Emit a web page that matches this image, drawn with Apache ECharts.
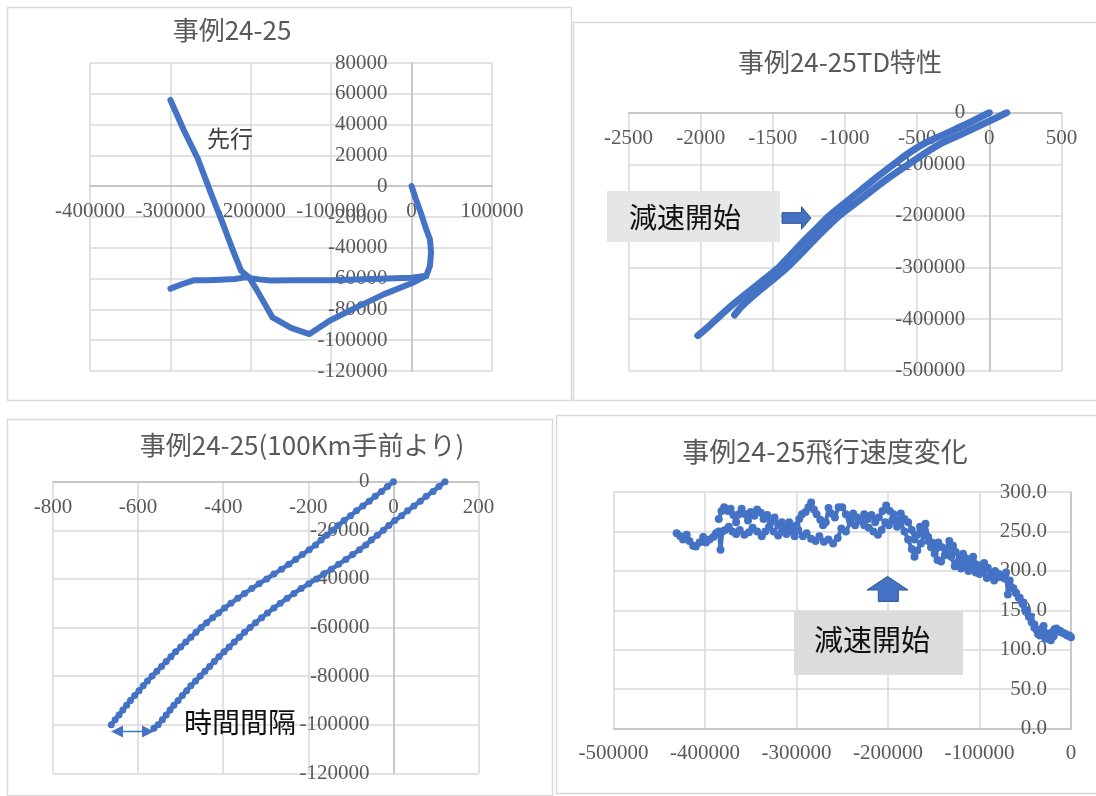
<!DOCTYPE html>
<html><head><meta charset="utf-8">
<script src="https://cdn.jsdelivr.net/npm/echarts@6/dist/echarts.min.js"></script>
<style>html,body{margin:0;padding:0;background:#fff}#c{width:1096px;height:796px}</style>
</head><body><div id="c"></div>
<script>
// ---------- Panel 1: 事例24-25 (track, m) ----------
const p1Lead = [[-300000,56000],[-283000,36000],[-266000,18000],[-250000,-4000],[-235000,-24000],[-222000,-42000],[-212000,-55000],[-202000,-59300],[-193000,-67000],[-173000,-85200],[-150000,-92000],[-127000,-96000],[-102000,-87400],[-70000,-79000],[-34000,-70100],[0,-63000],[18200,-58200],[22800,-51800],[24200,-43100],[22800,-34500],[18200,-28000],[11400,-17200],[5000,-8000],[0,0]];
const p1Follow = [[-300000,-66500],[-285000,-63500],[-270000,-61000],[-255000,-61000],[-238000,-60700],[-220000,-60300],[-207000,-59200],[-190000,-60500],[-175000,-61200],[-150000,-61000],[-120000,-61000],[-100000,-61000],[-60000,-60500],[-30000,-60000],[0,-59500],[18200,-58200]];
// ---------- Panel 2: TD特性 ----------
const p2Lead = [[0,0],[-143,-20000],[-298,-40000],[-452,-60000],[-567,-80000],[-663,-100000],[-780,-125000],[-890,-150000],[-1000,-175000],[-1110,-200000],[-1200,-225000],[-1290,-250000],[-1375,-275000],[-1460,-300000],[-1570,-325000],[-1680,-350000],[-1790,-375000],[-1890,-400000],[-1960,-418000],[-2020,-432000]];
const p2Follow = [[121,0],[3,-16000],[-181,-40000],[-337,-60000],[-454,-80000],[-560,-100000],[-690,-125000],[-810,-150000],[-925,-175000],[-1040,-200000],[-1135,-225000],[-1225,-250000],[-1310,-275000],[-1400,-300000],[-1505,-325000],[-1615,-350000],[-1715,-375000],[-1765,-392000]];
// ---------- Panel 3: 100Km手前より ----------
const p3Lead = [[0,0],[-14,-2000],[-28,-4000],[-43,-6000],[-57,-8000],[-72,-10000],[-87,-12000],[-101,-14000],[-116,-16000],[-130,-18000],[-143,-20000],[-157,-22000],[-170,-24000],[-183,-26000],[-198,-28000],[-214,-30000],[-230,-32000],[-246,-34000],[-263,-36000],[-281,-38000],[-298,-40000],[-316,-42000],[-333,-44000],[-350,-46000],[-366,-48000],[-382,-50000],[-397,-52000],[-411,-54000],[-425,-56000],[-439,-58000],[-452,-60000],[-464,-62000],[-476,-64000],[-488,-66000],[-500,-68000],[-512,-70000],[-523,-72000],[-534,-74000],[-545,-76000],[-556,-78000],[-567,-80000],[-578,-82000],[-588,-84000],[-598,-86000],[-608,-88000],[-618,-90000],[-627,-92000],[-636,-94000],[-645,-96000],[-654,-98000],[-663,-100000]];
const p3Follow = [[121,0],[107,-2000],[93,-4000],[77,-6000],[63,-8000],[48,-10000],[33,-12000],[19,-14000],[3,-16000],[-11,-18000],[-24,-20000],[-38,-22000],[-52,-24000],[-65,-26000],[-80,-28000],[-96,-30000],[-112,-32000],[-129,-34000],[-146,-36000],[-164,-38000],[-181,-40000],[-199,-42000],[-217,-44000],[-234,-46000],[-250,-48000],[-266,-50000],[-281,-52000],[-296,-54000],[-310,-56000],[-324,-58000],[-337,-60000],[-350,-62000],[-362,-64000],[-374,-66000],[-386,-68000],[-398,-70000],[-410,-72000],[-421,-74000],[-432,-76000],[-443,-78000],[-454,-80000],[-465,-82000],[-476,-84000],[-486,-86000],[-496,-88000],[-506,-90000],[-516,-92000],[-525,-94000],[-534,-96000],[-543,-98000],[-553,-100000],[-563,-101500]];
// ---------- Panel 4: 飛行速度変化 ----------
const p4Lead = [[-431000,248],[-427000,244],[-424000,240],[-420000,246],[-417000,238],[-413000,232],[-410000,231],[-406000,236],[-402000,243],[-399000,236],[-395000,240],[-391000,243],[-388000,248],[-385000,250],[-383000,227],[-381000,250],[-378000,252],[-374000,256],[-370000,250],[-366000,247],[-362000,252],[-357000,246],[-352000,249],[-348000,255],[-343000,250],[-338000,244],[-334000,250],[-330000,256],[-325000,250],[-320000,245],[-316000,250],[-311000,247],[-306000,250],[-302000,244],[-298000,252],[-293000,244],[-289000,248],[-284000,241],[-279000,238],[-275000,244],[-270000,237],[-265000,240],[-260000,235],[-255000,242],[-251000,254],[-246000,250],[-241000,262],[-236000,258],[-231000,264],[-226000,258],[-221000,255],[-216000,250],[-211000,246],[-207000,252],[-203000,262],[-199000,258],[-195000,265],[-190000,256],[-186000,262],[-182000,250],[-178000,240],[-174000,228],[-171000,218],[-168000,226],[-164000,235],[-160000,248],[-156000,238],[-153000,230],[-149000,222],[-146000,214],[-142000,212],[-138000,220],[-134000,226],[-131000,218],[-127000,206],[-123000,212],[-120000,203],[-116000,208],[-112000,200],[-108000,206],[-104000,198],[-100000,196],[-96000,200],[-92000,191],[-88000,194],[-84000,188],[-80000,192],[-76000,193],[-72000,190],[-68000,186],[-64000,178],[-60000,172],[-56000,166],[-52000,160],[-48000,150],[-44000,142],[-40000,132],[-37000,124],[-34000,118],[-31000,124],[-28000,114],[-25000,118],[-22000,112],[-19000,117],[-16000,127],[-12000,124],[-8000,121],[-4000,118],[0,116],[2000,118]];
const p4Follow = [[-385000,266],[-382000,276],[-379000,281],[-375000,276],[-372000,279],[-369000,271],[-366000,262],[-363000,272],[-360000,279],[-356000,272],[-353000,264],[-350000,275],[-346000,270],[-343000,278],[-339000,274],[-336000,266],[-332000,271],[-328000,262],[-324000,268],[-320000,258],[-316000,262],[-312000,254],[-308000,262],[-304000,256],[-300000,258],[-297000,266],[-294000,272],[-290000,275],[-287000,281],[-284000,287],[-281000,278],[-278000,272],[-274000,265],[-271000,258],[-268000,262],[-265000,280],[-262000,273],[-258000,268],[-254000,281],[-250000,281],[-246000,272],[-242000,266],[-238000,273],[-234000,268],[-230000,264],[-226000,272],[-222000,266],[-218000,271],[-214000,262],[-210000,268],[-206000,276],[-202000,283],[-198000,276],[-194000,272],[-190000,262],[-186000,273],[-182000,266],[-178000,262],[-174000,252],[-171000,240],[-168000,246],[-165000,256],[-162000,248],[-159000,260],[-156000,243],[-152000,236],[-148000,228],[-145000,236],[-141000,230],[-137000,226],[-133000,238],[-129000,232],[-126000,224],[-122000,214],[-118000,222],[-115000,216],[-111000,212],[-107000,218],[-103000,208],[-99000,202],[-95000,210],[-91000,204],[-87000,198],[-83000,200],[-79000,196],[-75000,192],[-71000,198],[-69000,170],[-67000,188],[-63000,178],[-60000,172],[-57000,166],[-53000,158],[-50000,150],[-46000,142],[-43000,135],[-40000,128],[-36000,120],[-33000,126],[-30000,130],[-27000,121],[-24000,114],[-21000,122],[-18000,126],[-14000,123],[-10000,122],[-6000,120],[-2000,118],[2000,120]];
const panelTitles = ['事例24-25','事例24-25TD特性','事例24-25(100Km手前より)','事例24-25飛行速度変化'];
const noteLead = '先行';
const noteDecel = '減速開始';
const noteGap = '時間間隔';

const BLUE = '#4472c4';
const TICK_FONT = 'Liberation Serif';
const CJK = 'Noto Sans CJK JP';
const intFmt = v => String(v);
const oneDec = v => v.toFixed(1);

function axis(gridIndex, min, max, interval, o) {
  return {
    type: 'value', gridIndex, min, max, interval,
    position: o.position, offset: o.offset || 0,
    axisLine: {show: true, onZero: false, lineStyle: {color: '#bfbfbf', width: 1.5}},
    axisTick: {show: false},
    splitLine: {show: true, lineStyle: {color: '#d9d9d9', width: 1.5}},
    axisLabel: {show: true, inside: !!o.inside, margin: o.margin, color: '#595959', fontFamily: TICK_FONT, fontSize: 21, formatter: o.fmt || intFmt, hideOverlap: false}
  };
}
function thick(idx, data, smooth, w) {
  return {type: 'line', xAxisIndex: idx, yAxisIndex: idx, data, showSymbol: false, symbol: 'none', smooth: smooth || false,
    lineStyle: {color: BLUE, width: w || 6, cap: 'round', join: 'round'}, itemStyle: {color: BLUE}};
}
function dotted(idx, data, size, w) {
  return {type: 'line', xAxisIndex: idx, yAxisIndex: idx, data, symbol: 'circle', symbolSize: size, showSymbol: true,
    lineStyle: {color: BLUE, width: w}, itemStyle: {color: BLUE}};
}
function txt(x, y, text, size, color, align) {
  return {type: 'text', x, y, z: 100, style: {text, fontFamily: CJK, fontSize: size, fill: color, align: align || 'center', verticalAlign: 'middle'}};
}
function box(x, y, w, h, stroke, fill, z) {
  return {type: 'rect', shape: {x, y, width: w, height: h}, z: z, style: {fill: fill || 'none', stroke: stroke || null, lineWidth: 1.5}};
}

const chart = echarts.init(document.getElementById('c'), null, {renderer: 'canvas'});
chart.setOption({
  animation: false,
  grid: [
    {left: 90, top: 63, width: 402, height: 308, outerBoundsMode: 'none'},
    {left: 628.5, top: 112.7, width: 433, height: 258, outerBoundsMode: 'none'},
    {left: 53, top: 481.7, width: 425.6, height: 291.6, outerBoundsMode: 'none'},
    {left: 613.5, top: 492.2, width: 457.5, height: 236.3, outerBoundsMode: 'none'}
  ],
  xAxis: [
    axis(0, -400000, 100000, 100000, {position: 'bottom', offset: -184.8, margin: 15}),
    axis(1, -2500, 500, 500, {position: 'top', inside: true, margin: 15}),
    axis(2, -800, 200, 200, {position: 'top', inside: true, margin: 15}),
    axis(3, -500000, 0, 100000, {position: 'bottom', margin: 14})
  ],
  yAxis: [
    axis(0, -120000, 80000, 20000, {position: 'left', offset: -321.6, margin: 24}),
    axis(1, -500000, 0, 100000, {position: 'left', offset: -360.8, margin: 24}),
    axis(2, -120000, 0, 20000, {position: 'left', offset: -340.5, margin: 24}),
    axis(3, 0, 300, 50, {position: 'right', inside: true, margin: 24, fmt: oneDec})
  ],
  series: [
    thick(0, p1Follow), thick(0, p1Lead),
    thick(1, p2Lead, 0.3, 7), thick(1, p2Follow, 0.3, 7),
    dotted(2, p3Lead, 7, 4.5), dotted(2, p3Follow, 7, 4.5),
    dotted(3, p4Lead, 8, 4), dotted(3, p4Follow, 8, 4)
  ],
  graphic: [
    box(7.5, 7.5, 564, 393, '#d9d9d9', null, -10),
    box(573.5, 22.5, 530, 378, '#d9d9d9', null, -10),
    box(7.5, 419.5, 545, 376, '#d9d9d9', null, -10),
    box(556.5, 415.5, 545, 378, '#d9d9d9', null, -10),
    txt(232, 30, panelTitles[0], 26, '#595959'),
    txt(840, 62, panelTitles[1], 26, '#595959'),
    txt(302, 445, panelTitles[2], 26, '#595959'),
    txt(825, 452, panelTitles[3], 27, '#595959'),
    txt(230, 138, noteLead, 23, '#404040'),
    box(607, 191, 173, 51, null, '#e7e6e6', 90),
    txt(629, 217, noteDecel, 28, '#111', 'left'),
    {type: 'polygon', z: 100, shape: {points: [[782,212.7],[801.5,212.7],[801.5,206.7],[811,218],[801.5,229.3],[801.5,223.3],[782,223.3]]}, style: {fill: BLUE, stroke: '#2f528f', lineWidth: 1}},
    txt(184, 722, noteGap, 28, '#111', 'left'),
    {type: 'line', z: 100, shape: {x1: 114, y1: 731.5, x2: 151, y2: 731.5}, style: {stroke: BLUE, lineWidth: 1.5}},
    {type: 'polygon', z: 100, shape: {points: [[111,731.5],[123,725.5],[123,737.5]]}, style: {fill: BLUE}},
    {type: 'polygon', z: 100, shape: {points: [[154,731.5],[142,725.5],[142,737.5]]}, style: {fill: BLUE}},
    {type: 'polygon', z: 100, shape: {points: [[887.5,576.4],[908,590],[898.3,590],[898.3,601.4],[878.3,601.4],[878.3,590],[867,590]]}, style: {fill: BLUE, stroke: '#2f528f', lineWidth: 1}},
    box(794, 611, 169, 64, null, '#dcdcdc', 90),
    txt(814, 640, noteDecel, 29, '#111', 'left')
  ]
});
</script></body></html>
